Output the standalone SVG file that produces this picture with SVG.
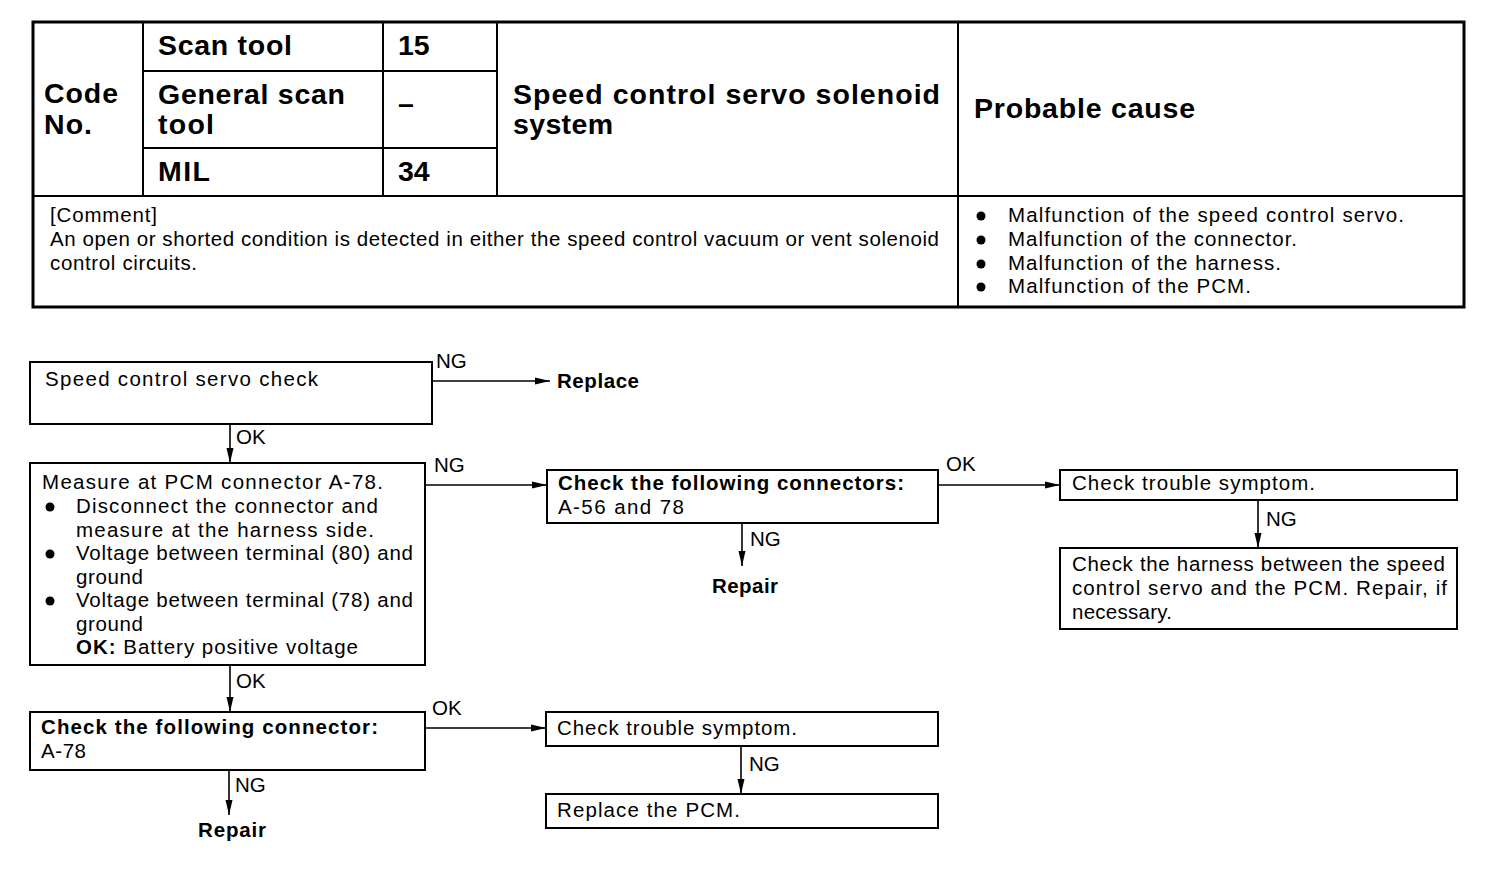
<svg xmlns="http://www.w3.org/2000/svg" width="1504" height="872" viewBox="0 0 1504 872">
<style>
.bg{fill:#fff}
.tb{fill:none;stroke:#000;stroke-width:3}
.ln{stroke:#000;stroke-width:2;fill:none}
.box{fill:#fff;stroke:#000;stroke-width:2}
.h{font-family:"Liberation Sans",Arial,sans-serif;font-weight:bold;font-size:28.5px;fill:#000}
.t{font-family:"Liberation Sans",Arial,sans-serif;font-size:20.5px;fill:#000}
.b{font-family:"Liberation Sans",Arial,sans-serif;font-size:20.5px;font-weight:bold;fill:#000}
.lb{font-family:"Liberation Sans",Arial,sans-serif;font-size:20.5px;fill:#000}
.c{stroke:#000;stroke-width:1.6;fill:none}
</style>
<defs>
<marker id="ah" viewBox="0 0 15 8" refX="15" refY="4" markerWidth="15" markerHeight="8" markerUnits="userSpaceOnUse" orient="auto">
<path d="M0,0.5 L15,4 L0,7.5 Z" fill="#000"/>
</marker>
</defs>
<rect class="bg" x="0" y="0" width="1504" height="872"/>

<g id="table">
<rect class="tb" x="33" y="22" width="1431" height="285"/>
<line class="ln" x1="33" y1="196" x2="1464" y2="196"/>
<line class="ln" x1="143" y1="22" x2="143" y2="196"/>
<line class="ln" x1="383" y1="22" x2="383" y2="196"/>
<line class="ln" x1="497" y1="22" x2="497" y2="196"/>
<line class="ln" x1="958" y1="22" x2="958" y2="307"/>
<line class="ln" x1="143" y1="71" x2="497" y2="71"/>
<line class="ln" x1="143" y1="148" x2="497" y2="148"/>
<text class="h" x="44" y="103" textLength="74">Code</text>
<text class="h" x="44" y="134" textLength="48">No.</text>
<text class="h" x="158" y="55" textLength="134">Scan tool</text>
<text class="h" x="158" y="104" textLength="187">General scan</text>
<text class="h" x="158" y="134" textLength="56">tool</text>
<text class="h" x="158" y="181" textLength="52">MIL</text>
<text class="h" x="398" y="55">15</text>
<text class="h" x="398" y="113">–</text>
<text class="h" x="398" y="181">34</text>
<text class="h" x="513" y="104" textLength="427">Speed control servo solenoid</text>
<text class="h" x="513" y="134" textLength="100">system</text>
<text class="h" x="974" y="118" textLength="221">Probable cause</text>
<text class="t" x="50" y="222" textLength="107">[Comment]</text>
<text class="t" x="50" y="246" textLength="889">An open or shorted condition is detected in either the speed control vacuum or vent solenoid</text>
<text class="t" x="50" y="270" textLength="147">control circuits.</text>
<circle cx="981" cy="216" r="4.5"/>
<circle cx="981" cy="240" r="4.5"/>
<circle cx="981" cy="264" r="4.5"/>
<circle cx="981" cy="287" r="4.5"/>
<text class="t" x="1008" y="222" textLength="396">Malfunction of the speed control servo.</text>
<text class="t" x="1008" y="246" textLength="289">Malfunction of the connector.</text>
<text class="t" x="1008" y="270" textLength="273">Malfunction of the harness.</text>
<text class="t" x="1008" y="293" textLength="243">Malfunction of the PCM.</text>
</g>

<g id="connectors">
<line class="c" x1="432" y1="381" x2="550" y2="381" marker-end="url(#ah)"/>
<text class="lb" x="436" y="368">NG</text>
<line class="c" x1="230" y1="424" x2="230" y2="463" marker-end="url(#ah)"/>
<text class="lb" x="236" y="444">OK</text>
<line class="c" x1="425" y1="485" x2="547" y2="485" marker-end="url(#ah)"/>
<text class="lb" x="434" y="472">NG</text>
<line class="c" x1="742" y1="523" x2="742" y2="566" marker-end="url(#ah)"/>
<text class="lb" x="750" y="546">NG</text>
<line class="c" x1="938" y1="485" x2="1060" y2="485" marker-end="url(#ah)"/>
<text class="lb" x="946" y="471">OK</text>
<line class="c" x1="1258" y1="500" x2="1258" y2="548" marker-end="url(#ah)"/>
<text class="lb" x="1266" y="526">NG</text>
<line class="c" x1="230" y1="665" x2="230" y2="712" marker-end="url(#ah)"/>
<text class="lb" x="236" y="688">OK</text>
<line class="c" x1="229" y1="770" x2="229" y2="815" marker-end="url(#ah)"/>
<text class="lb" x="235" y="792">NG</text>
<line class="c" x1="425" y1="728" x2="546" y2="728" marker-end="url(#ah)"/>
<text class="lb" x="432" y="715">OK</text>
<line class="c" x1="741" y1="746" x2="741" y2="794" marker-end="url(#ah)"/>
<text class="lb" x="749" y="771">NG</text>
</g>

<g id="n1">
<rect class="box" x="30" y="362" width="402" height="62"/>
<text class="t" x="45" y="386" textLength="273">Speed control servo check</text>
</g>
<g id="replace">
<text class="b" x="557" y="388" textLength="82">Replace</text>
</g>

<g id="n2">
<rect class="box" x="30" y="463" width="395" height="202"/>
<text class="t" x="42" y="489" textLength="341">Measure at PCM connector A-78.</text>
<circle cx="50" cy="507" r="4.5"/>
<text class="t" x="76" y="513" textLength="302">Disconnect the connector and</text>
<text class="t" x="76" y="537" textLength="298">measure at the harness side.</text>
<circle cx="50" cy="554" r="4.5"/>
<text class="t" x="76" y="560" textLength="337">Voltage between terminal (80) and</text>
<text class="t" x="76" y="584" textLength="67">ground</text>
<circle cx="50" cy="601" r="4.5"/>
<text class="t" x="76" y="607" textLength="337">Voltage between terminal (78) and</text>
<text class="t" x="76" y="631" textLength="67">ground</text>
<text class="t" x="76" y="654" textLength="282"><tspan class="b">OK:</tspan> Battery positive voltage</text>
</g>

<g id="n3">
<rect class="box" x="547" y="470" width="391" height="53"/>
<text class="b" x="558" y="490" textLength="346">Check the following connectors:</text>
<text class="t" x="558" y="514" textLength="126">A-56 and 78</text>
</g>
<g id="repair1">
<text class="b" x="712" y="593" textLength="66">Repair</text>
</g>

<g id="n4">
<rect class="box" x="1060" y="470" width="397" height="30"/>
<text class="t" x="1072" y="490" textLength="243">Check trouble symptom.</text>
</g>
<g id="n5">
<rect class="box" x="1060" y="548" width="397" height="81"/>
<text class="t" x="1072" y="571" textLength="373">Check the harness between the speed</text>
<text class="t" x="1072" y="595" textLength="375">control servo and the PCM. Repair, if</text>
<text class="t" x="1072" y="619" textLength="100">necessary.</text>
</g>

<g id="n6">
<rect class="box" x="30" y="712" width="395" height="58"/>
<text class="b" x="41" y="734" textLength="337">Check the following connector:</text>
<text class="t" x="41" y="758" textLength="45">A-78</text>
</g>
<g id="repair2">
<text class="b" x="198" y="837" textLength="68">Repair</text>
</g>

<g id="n7">
<rect class="box" x="546" y="712" width="392" height="34"/>
<text class="t" x="557" y="735" textLength="240">Check trouble symptom.</text>
</g>
<g id="n8">
<rect class="box" x="546" y="794" width="392" height="34"/>
<text class="t" x="557" y="817" textLength="183">Replace the PCM.</text>
</g>
</svg>
